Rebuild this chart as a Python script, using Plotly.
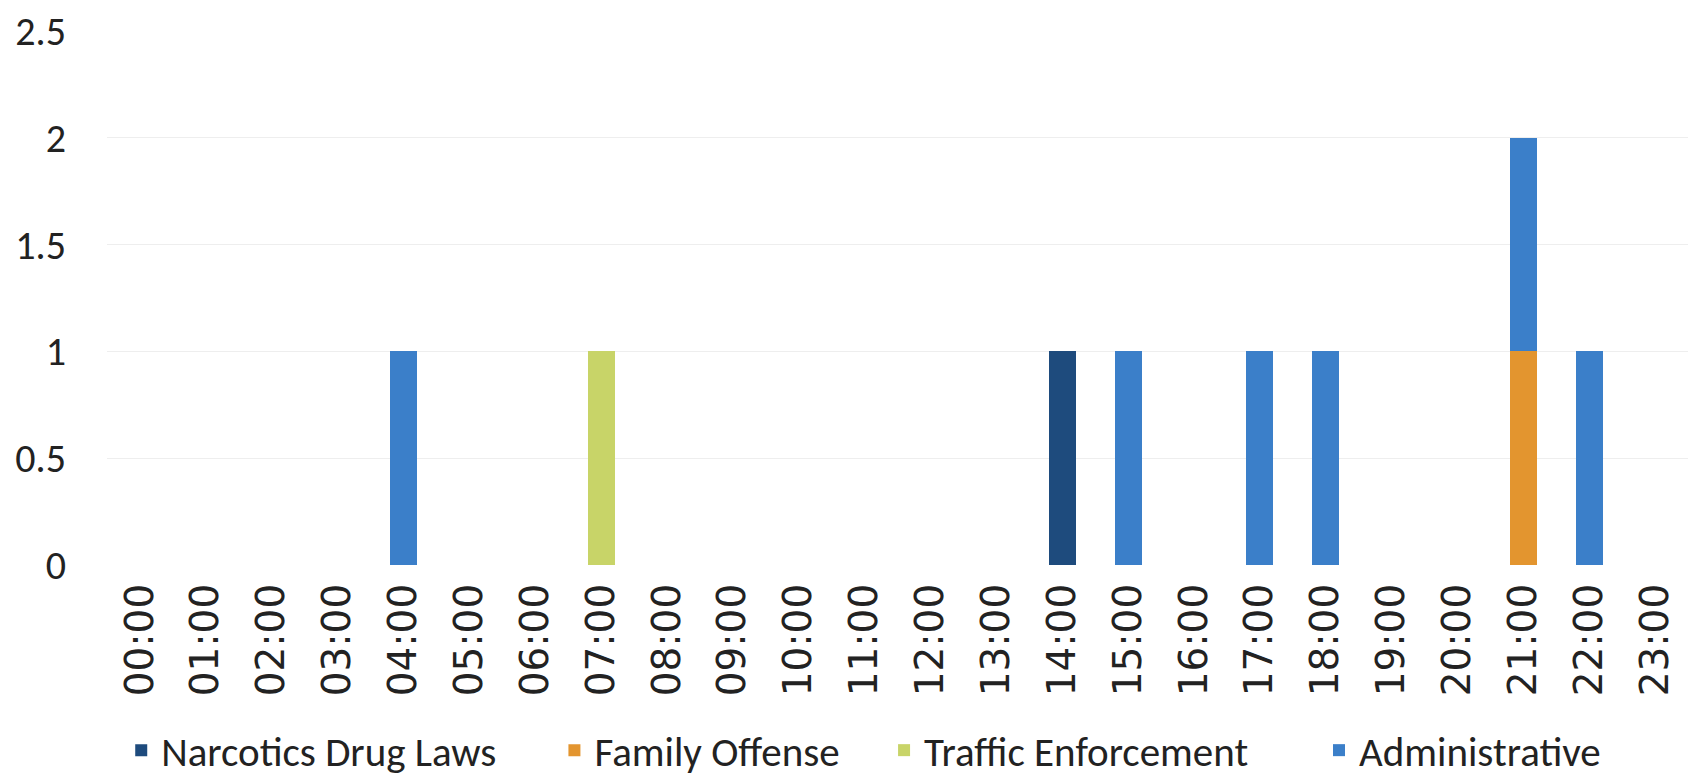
import plotly.graph_objects as go

hours = [f"{h:02d}:00" for h in range(24)]

narcotics =      [0,0,0,0,0,0,0,0,0,0,0,0,0,0,1,0,0,0,0,0,0,0,0,0]
family_offense = [0,0,0,0,0,0,0,0,0,0,0,0,0,0,0,0,0,0,0,0,0,1,0,0]
traffic =        [0,0,0,0,0,0,0,1,0,0,0,0,0,0,0,0,0,0,0,0,0,0,0,0]
administrative = [0,0,0,0,1,0,0,0,0,0,0,0,0,0,0,1,0,1,1,0,0,1,1,0]

y_ticks = [0, 0.5, 1, 1.5, 2, 2.5]
y_tick_text = ["0", "0.5", "1", "1.5", "2", "2.5"]

# name, values, colour, legend slot, legend x (paper)
series = [
    ("Narcotics Drug Laws", narcotics, "#1e4b7d", "legend", 0.009),
    ("Family Offense", family_offense, "#e3952f", "legend2", 0.283),
    ("Traffic Enforcement", traffic, "#c8d468", "legend3", 0.4915),
    ("Administrative", administrative, "#3b7fc9", "legend4", 0.7666),
]

FONT = "Carlito, Calibri, Lato, sans-serif"
TICK_FONT_X = "DejaVu Sans, sans-serif"

fig = go.Figure()
for name, vals, color, leg, _ in series:
    fig.add_trace(go.Bar(
        x=hours, y=vals, name=name, legend=leg,
        marker=dict(color=color, line=dict(width=0)),
        width=0.41,
    ))

legend_common = dict(
    orientation="h", xanchor="left",
    yref="container", y=0.0, yanchor="bottom",
    font=dict(size=41, family=FONT, color="#222222"),
    bgcolor="rgba(0,0,0,0)",
)
layout_legends = {}
for name, vals, color, leg, lx in series:
    layout_legends[leg] = dict(legend_common, x=lx)

fig.update_layout(
    barmode="stack",
    width=1688, height=784,
    margin=dict(l=107, r=0, t=31, b=219),
    paper_bgcolor="white", plot_bgcolor="white",
    font=dict(family=FONT, color="#222222", size=34),
    showlegend=True,
    xaxis=dict(
        type="category", tickangle=-90, showgrid=False, zeroline=False,
        showline=False, ticks="", tickfont=dict(size=39, family=TICK_FONT_X, color="#222222"),
        ticklabelstandoff=10,
    ),
    yaxis=dict(
        range=[0, 2.5], tickvals=y_ticks, ticktext=y_tick_text,
        showgrid=True, gridcolor="#eeeeee", gridwidth=1,
        zeroline=False, showline=False, ticks="",
        tickfont=dict(size=40, family=FONT), ticklabelstandoff=40,
    ),
    **layout_legends,
)

fig.write_html("out.html")
